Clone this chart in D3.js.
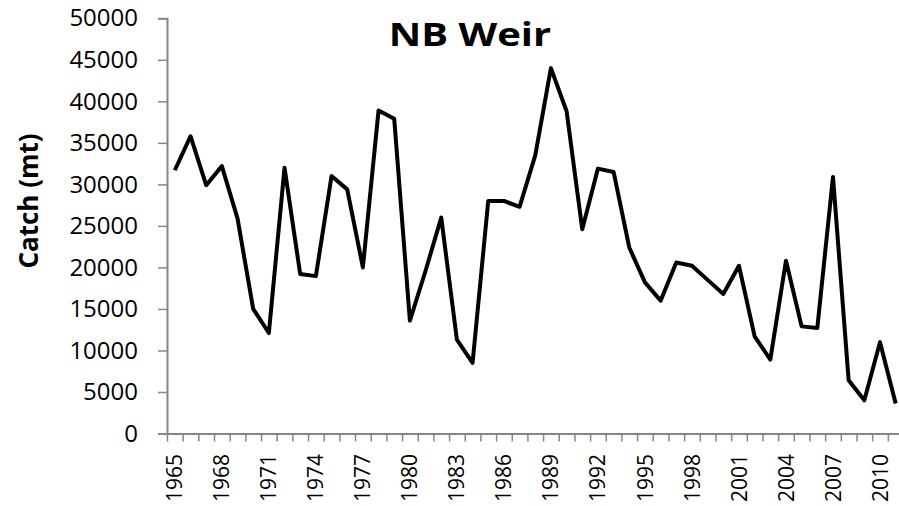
<!DOCTYPE html>
<html>
<head>
<meta charset="utf-8">
<script src="https://cdn.jsdelivr.net/npm/d3@7"></script>
<style>
  html, body { margin: 0; padding: 0; background: #fff; }
  svg { display: block; }
</style>
</head>
<body>
<div id="chart"></div>
<script>
// Annual catch, NB Weir (mt)
const years = d3.range(1965, 2012);
const catchMt = [
  31700, 35800, 29900, 32200, 25900, 15000, 12100, 32000, 19200, 18950,
  31000, 29400, 20000, 38900, 37900, 13600, 19600, 26000, 11300, 8500,
  28000, 28000, 27300, 33500, 44000, 38800, 24600, 31900, 31500, 22400,
  18200, 16000, 20600, 20200, 18500, 16800, 20200, 11700, 8900, 20800,
  12900, 12700, 30900, 6400, 4000, 11000, 3600
];
const yTicks = d3.range(0, 50001, 5000);
const labelYears = d3.range(1965, 2012, 3);

const width = 899;
const height = 506;
const plot = { left: 167, right: 903.5, top: 18.3, bottom: 433.5 };

const axisColor = '#868686';
const font = '"Open Sans", "Liberation Sans", Arial, sans-serif';

const x = d3.scaleLinear()
  .domain([years[0] - 0.5, years[years.length - 1] + 0.5])
  .range([plot.left, plot.right]);

const y = d3.scaleLinear()
  .domain([0, 50000])
  .range([plot.bottom, plot.top]);

const svg = d3.select('#chart')
  .append('svg')
  .attr('width', width)
  .attr('height', height)
  .attr('viewBox', `0 0 ${width} ${height}`);

/* Y axis */
const yAxis = svg.append('g')
  .attr('transform', `translate(${plot.left},0)`)
  .call(d3.axisLeft(y).tickValues(yTicks).tickSize(9).tickPadding(20).tickFormat(d3.format('d')));

yAxis.select('.domain').attr('stroke', axisColor).attr('stroke-width', 2);
yAxis.selectAll('.tick line').attr('stroke', axisColor).attr('stroke-width', 1.5);
yAxis.selectAll('.tick text')
  .attr('fill', '#000')
  .attr('font-family', font)
  .attr('font-size', 24);

/* X axis: ticks between categories */
const boundaries = d3.range(years[0] - 0.5, years[years.length - 1] + 1, 1);
const xAxis = svg.append('g')
  .attr('transform', `translate(0,${plot.bottom})`)
  .call(d3.axisBottom(x).tickValues(boundaries).tickSize(8).tickSizeOuter(0).tickFormat(''));

xAxis.select('.domain').attr('stroke', axisColor).attr('stroke-width', 2);
xAxis.selectAll('.tick line').attr('stroke', axisColor).attr('stroke-width', 1.5);

/* X labels, rotated */
svg.append('g')
  .selectAll('text')
  .data(labelYears)
  .join('text')
  .attr('transform', (d) => `translate(${x(d)},454) rotate(-90)`)
  .attr('text-anchor', 'end')
  .attr('dy', '0.36em')
  .attr('fill', '#000')
  .attr('font-family', font)
  .attr('font-size', 21)
  .text((d) => d);

/* Series line */
const series = years.map((year, i) => ({ year, value: catchMt[i] }));
const line = d3.line()
  .x((d) => x(d.year))
  .y((d) => y(d.value));

svg.append('path')
  .datum(series)
  .attr('fill', 'none')
  .attr('stroke', '#000')
  .attr('stroke-width', 4)
  .attr('stroke-linejoin', 'round')
  .attr('d', line);

/* Title */
svg.append('text')
  .attr('transform', 'translate(470,46) scale(1.25,1)')
  .attr('text-anchor', 'middle')
  .attr('fill', '#000')
  .attr('font-family', font)
  .attr('font-weight', 700)
  .attr('font-size', 32)
  .text('NB Weir');

/* Y axis title */
svg.append('text')
  .attr('transform', 'translate(38,201) rotate(-90)')
  .attr('text-anchor', 'middle')
  .attr('fill', '#000')
  .attr('font-family', font)
  .attr('font-weight', 700)
  .attr('font-size', 26)
  .text('Catch (mt)');
</script>
</body>
</html>
